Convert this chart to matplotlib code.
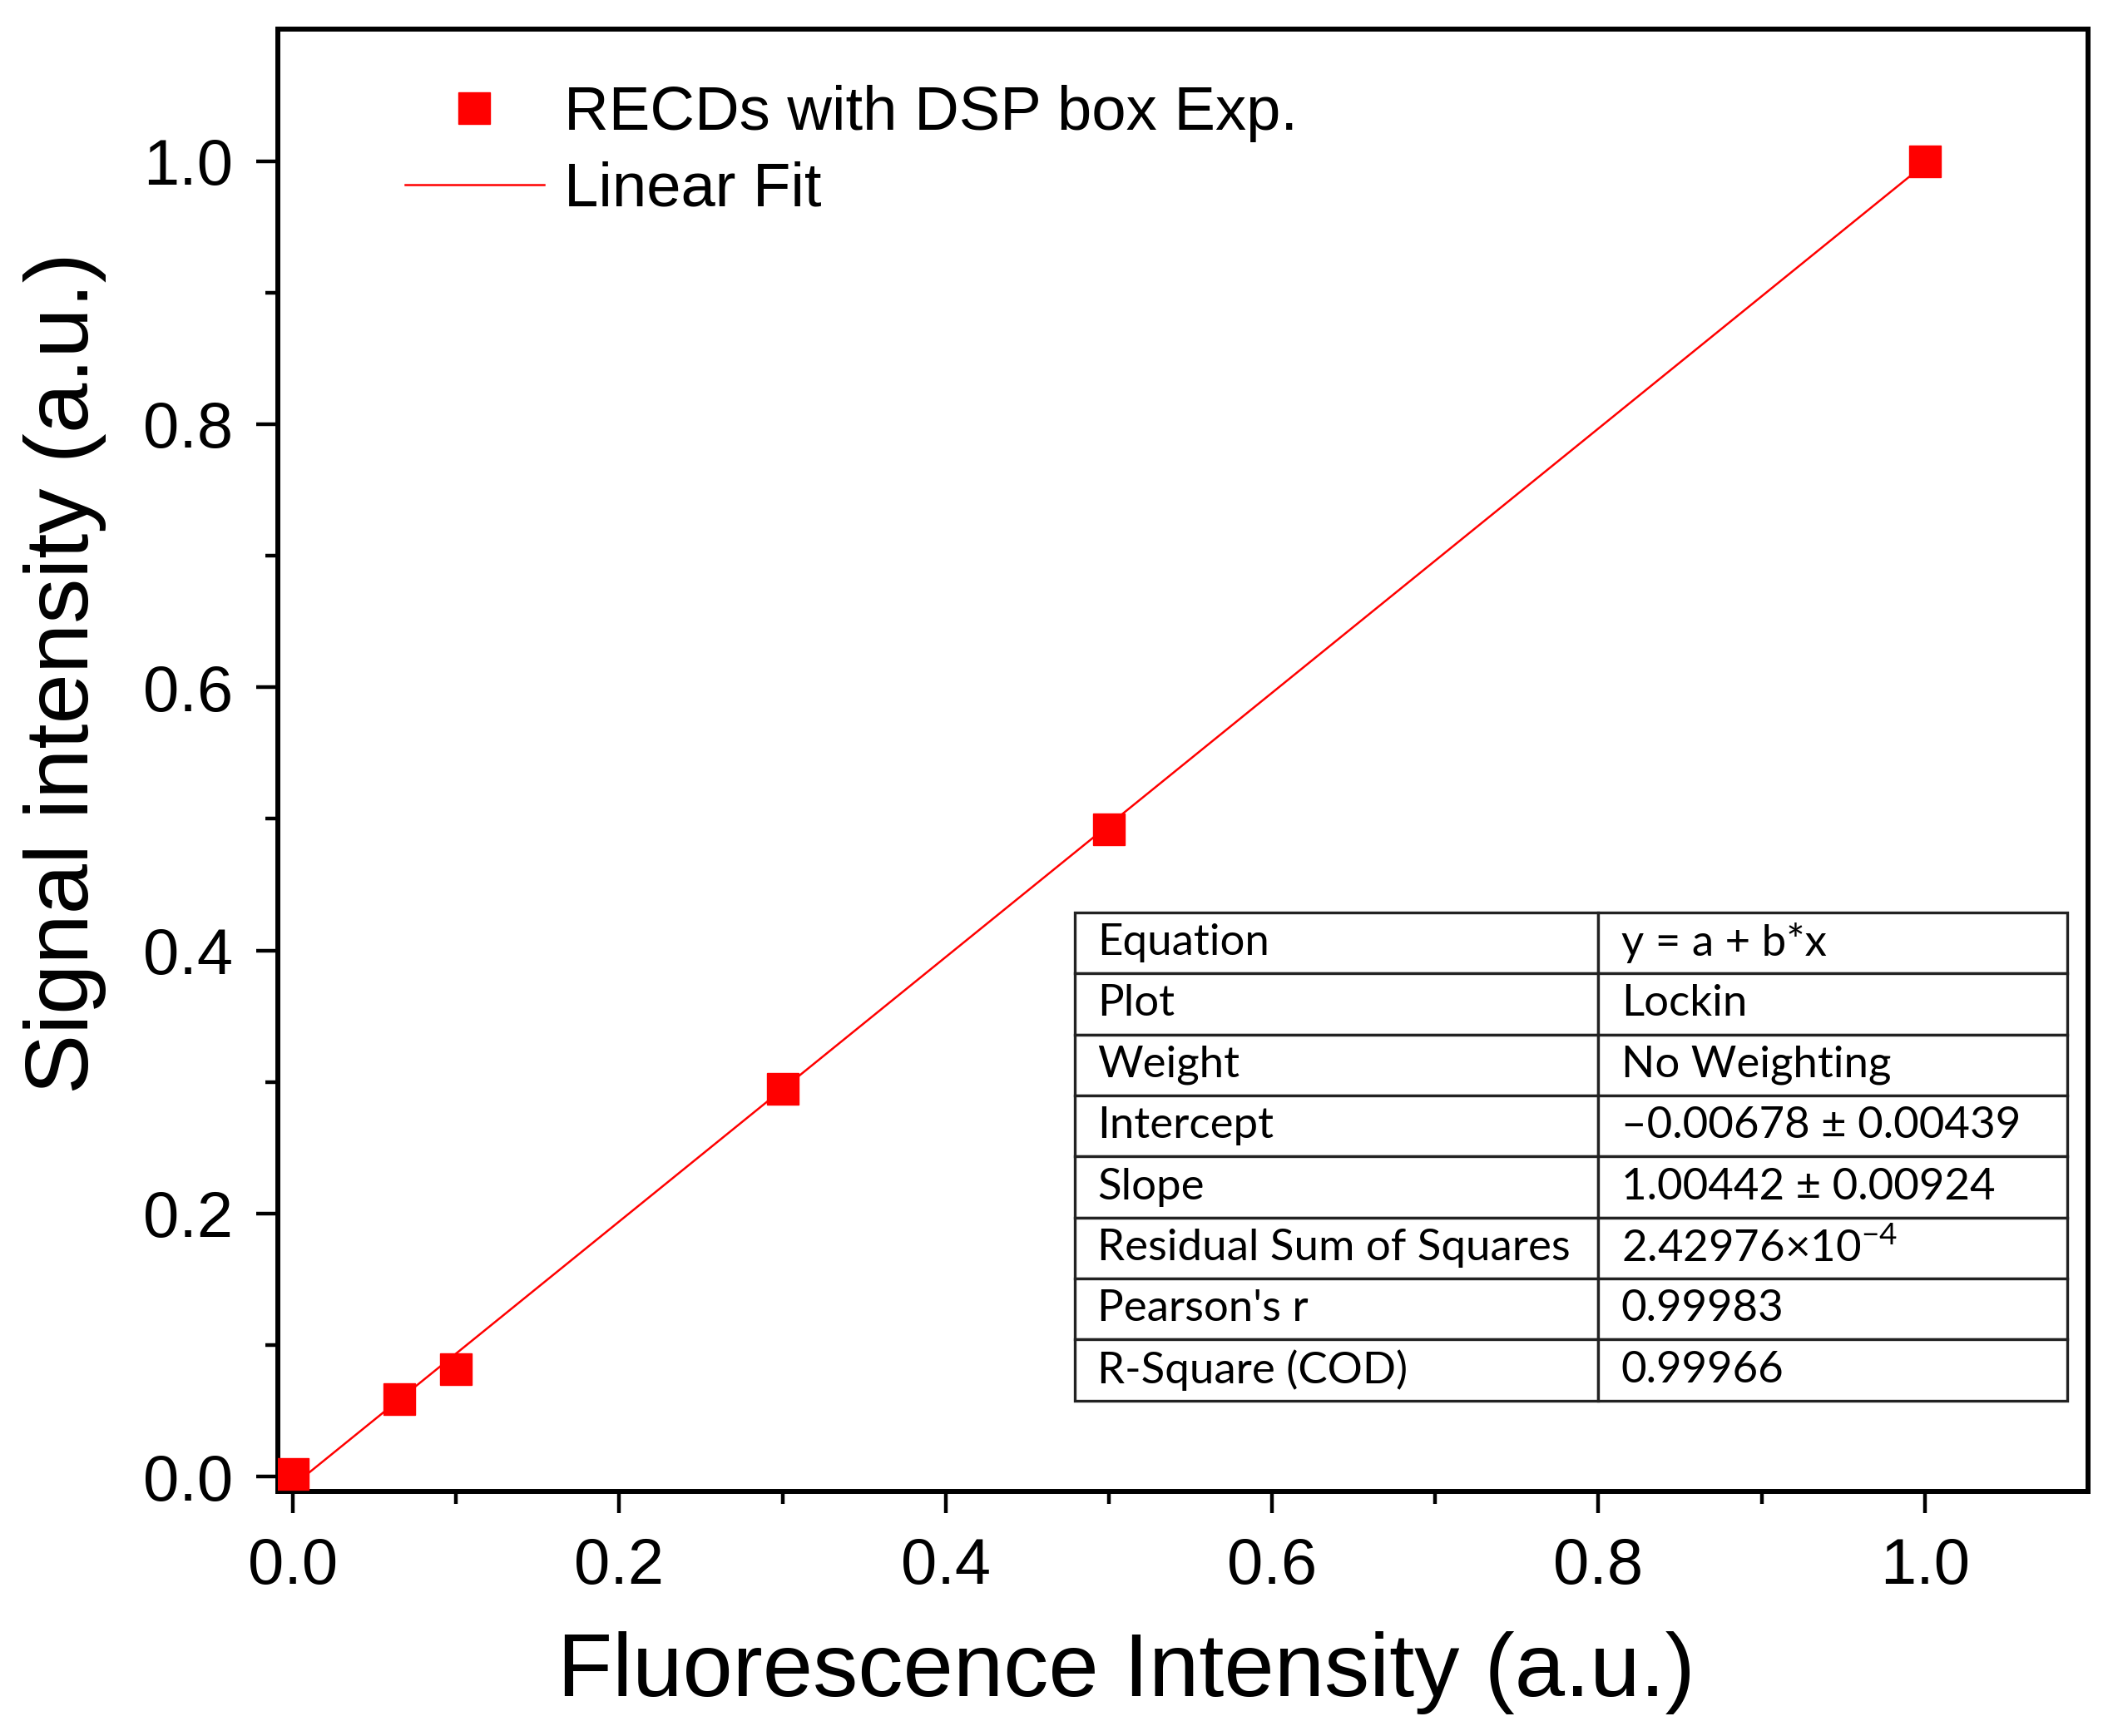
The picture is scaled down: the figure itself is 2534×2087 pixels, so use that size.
import numpy as np
import matplotlib
matplotlib.use("Agg")
import matplotlib.pyplot as plt

# data
fluor = [0.0, 0.065, 0.1, 0.3, 0.5, 1.0]
signal = [0.002, 0.059, 0.082, 0.295, 0.492, 1.0]

# linear fit parameters (from the fit table)
intercept = -0.00678
slope = 1.00442

table_keys = ["Equation", "Plot", "Weight", "Intercept", "Slope",
              "Residual Sum of Squares", "Pearson's r", "R-Square (COD)"]
table_vals = ["y = a + b*x", "Lockin", "No Weighting",
              "\u20130.00678 \u00b1 0.00439", "1.00442 \u00b1 0.00924",
              "2.42976\u00d710$^{\u22124}$", "0.99983", "0.99966"]

x_ticks = [0.0, 0.2, 0.4, 0.6, 0.8, 1.0]
y_ticks = [0.0, 0.2, 0.4, 0.6, 0.8, 1.0]

plt.rcParams['font.family'] = ['Liberation Sans', 'DejaVu Sans']
plt.rcParams['mathtext.fontset'] = 'custom'
plt.rcParams['mathtext.rm'] = 'Lato'

fig = plt.figure(figsize=(25.34, 20.87), dpi=100)
ax = fig.add_axes([0.132, 0.141, 0.8585, 0.842])

# fit line over the data range
xf = np.array([min(fluor), max(fluor)])
ax.plot(xf, intercept + slope * xf, color='#ff0000', lw=1.8, label='Linear Fit', zorder=2)
ax.plot(fluor, signal, ls='none', marker='s', ms=28, color='#ff0000',
        mec='#ff0000', label='RECDs with DSP box Exp.', zorder=3)

ax.set_xlim(-0.009, 1.1)
ax.set_ylim(-0.011, 1.1)
ax.set_xticks(x_ticks)
ax.set_yticks(y_ticks)
ax.set_xticks(np.arange(0.1, 1.1, 0.2), minor=True)
ax.set_yticks(np.arange(0.1, 1.1, 0.2), minor=True)
ax.set_xticklabels([f"{v:.1f}" for v in x_ticks])
ax.set_yticklabels([f"{v:.1f}" for v in y_ticks])

for s in ax.spines.values():
    s.set_linewidth(4.3)
ax.tick_params(which='major', direction='out', length=19, width=3.2, labelsize=56, pad=20)
ax.tick_params(which='minor', direction='out', length=11, width=3.2)
ax.tick_params(top=False, right=False)

ax.set_xlabel('Fluorescence Intensity (a.u.)', fontsize=78)
ax.set_ylabel('Signal intensity (a.u.)', fontsize=78)
ax.xaxis.set_label_coords(0.4685, -0.096)
ax.yaxis.set_label_coords(-0.095, 0.5595)

handles, labels = ax.get_legend_handles_labels()
ax.legend(handles[::-1], labels[::-1], loc='upper left', bbox_to_anchor=(0.070, 0.962),
          frameon=False, fontsize=53.5, handlelength=2.25, handletextpad=0.33,
          labelspacing=0.3, borderpad=0, borderaxespad=0)

# fit result table
tab = ax.table(cellText=[[k, v] for k, v in zip(table_keys, table_vals)],
               colWidths=[0.527, 0.473], cellLoc='left',
               bbox=[0.440, 0.062, 0.5485, 0.334], zorder=5)
tab.auto_set_font_size(False)
for (r, c), cell in tab.get_celld().items():
    cell.set_edgecolor('#222222')
    cell.set_linewidth(2.4)
    cell.set_facecolor('white')
    cell.PAD = 0.044 if c == 0 else 0.05
    cell.get_text().set_fontsize(38)
    cell.get_text().set_fontfamily(['Lato', 'DejaVu Sans'])

fig.savefig('out.png', dpi=100)
